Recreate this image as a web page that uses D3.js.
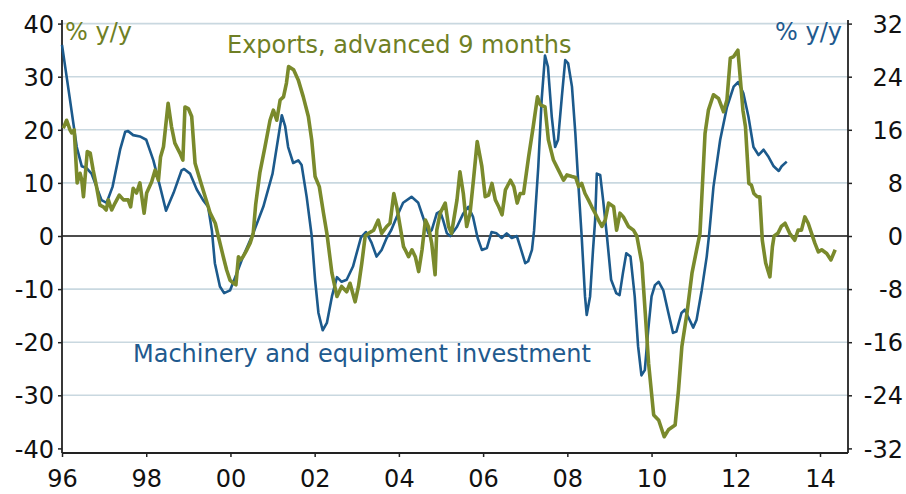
<!DOCTYPE html>
<html>
<head>
<meta charset="utf-8">
<script src="https://cdn.jsdelivr.net/npm/d3@7"></script>
<style>
  html, body { margin: 0; padding: 0; background: #fff; }
  svg { display: block; }
  text { font-family: "DejaVu Sans", Verdana, sans-serif; }
</style>
</head>
<body>
<svg id="chart" width="906" height="494"></svg>
<script>
// ---- DATA ----
const xTickYears = [1996, 1998, 2000, 2002, 2004, 2006, 2008, 2010, 2012, 2014];
const xTickLabels = ["96", "98", "00", "02", "04", "06", "08", "10", "12", "14"];
const leftTicks = [40, 30, 20, 10, 0, -10, -20, -30, -40];
const rightTicks = [32, 24, 16, 8, 0, -8, -16, -24, -32];

// Machinery and equipment investment, % y/y (right axis)
const investDates = [
  1996.0, 1996.19, 1996.35, 1996.47, 1996.59, 1996.7, 1996.82, 1996.94, 1997.06, 1997.2,
  1997.38, 1997.5, 1997.57, 1997.69, 1997.85, 1998.0, 1998.17, 1998.33, 1998.47, 1998.65,
  1998.84, 1998.9, 1999.04, 1999.2, 1999.35, 1999.47, 1999.56, 1999.63, 1999.75, 1999.85,
  1999.99, 2000.15, 2000.3, 2000.54, 2000.78, 2001.0, 2001.15, 2001.22, 2001.3, 2001.37,
  2001.49, 2001.61, 2001.69, 2001.81, 2001.93, 2002.01, 2002.09, 2002.19, 2002.29, 2002.41,
  2002.53, 2002.64, 2002.76, 2002.91, 2003.1, 2003.22, 2003.35, 2003.47, 2003.59, 2003.71,
  2003.82, 2003.95, 2004.1, 2004.3, 2004.46, 2004.57, 2004.7, 2004.78, 2004.9, 2004.98,
  2005.05, 2005.14, 2005.22, 2005.38, 2005.53, 2005.65, 2005.76, 2005.87, 2005.97, 2006.09,
  2006.2, 2006.32, 2006.44, 2006.56, 2006.68, 2006.8, 2006.88, 2007.0, 2007.07, 2007.16,
  2007.21, 2007.31, 2007.39, 2007.47, 2007.54, 2007.63, 2007.71, 2007.78, 2007.87, 2007.95,
  2008.02, 2008.11, 2008.19, 2008.26, 2008.34, 2008.42, 2008.46, 2008.54, 2008.61, 2008.66,
  2008.7, 2008.78, 2008.85, 2008.94, 2009.04, 2009.16, 2009.24, 2009.32, 2009.4, 2009.5,
  2009.6, 2009.68, 2009.76, 2009.84, 2009.92, 2010.0, 2010.08, 2010.17, 2010.28, 2010.4,
  2010.51, 2010.59, 2010.71, 2010.79, 2010.87, 2010.99, 2011.07, 2011.19, 2011.31, 2011.37,
  2011.47, 2011.63, 2011.79, 2011.95, 2012.06, 2012.18, 2012.3, 2012.42, 2012.54, 2012.66,
  2012.78, 2012.9, 2013.02, 2013.09, 2013.21
];
const investValues = [
  28.8, 20.5, 13.4, 10.5, 10.2, 9.4, 7.4, 5.4, 5.0, 7.4,
  13.0, 15.7, 15.8, 15.2, 15.0, 14.5, 11.4, 7.4, 3.8, 6.5,
  9.9, 10.1, 9.4, 7.0, 5.4, 4.4, 0.8, -4.1, -7.6, -8.6,
  -8.2, -5.6, -3.1, 0.4, 4.4, 9.4, 15.4, 18.2, 16.5, 13.4,
  11.0, 11.4, 10.7, 5.9, 0.0, -6.6, -11.6, -14.2, -13.1, -9.1,
  -6.2, -6.9, -6.6, -4.6, -0.2, 0.6, -1.0, -3.1, -2.1, -0.3,
  0.9, 2.9, 5.0, 5.9, 5.0, 2.9, 0.4, 0.9, 3.4, 3.7,
  2.4, 0.4, 0.0, 1.4, 3.4, 4.4, 2.9, -0.3, -2.1, -1.8,
  0.6, 0.4, -0.3, 0.4, -0.3, 0.0, -1.6, -4.1, -3.8, -2.1,
  0.8, 10.4, 20.5, 27.2, 25.5, 18.0, 13.4, 14.5, 21.0, 26.5,
  26.0, 22.5, 15.5, 8.0, 0.0, -9.1, -11.9, -9.1, -2.1, 2.4,
  9.4, 9.2, 5.4, 0.0, -6.6, -8.6, -8.9, -5.6, -2.6, -3.1,
  -9.1, -16.6, -21.0, -20.2, -14.2, -9.1, -7.4, -6.9, -8.2, -11.6,
  -14.6, -14.4, -11.6, -11.1, -12.2, -13.8, -12.6, -8.2, -3.1, 0.4,
  7.4, 14.5, 19.4, 22.5, 23.2, 21.5, 18.0, 13.4, 12.2, 13.0,
  11.9, 10.5, 9.8, 10.5, 11.2
];

// Exports, advanced 9 months, % y/y (left axis)
const exportDates = [
  1996.03, 1996.11, 1996.19, 1996.23, 1996.29, 1996.36, 1996.43, 1996.47, 1996.51, 1996.6,
  1996.67, 1996.74, 1996.82, 1996.9, 1996.98, 1997.05, 1997.1, 1997.18, 1997.26, 1997.36,
  1997.46, 1997.57, 1997.63, 1997.69, 1997.77, 1997.85, 1997.95, 1998.01, 1998.13, 1998.21,
  1998.29, 1998.34, 1998.41, 1998.52, 1998.6, 1998.68, 1998.8, 1998.87, 1998.92, 1999.0,
  1999.08, 1999.16, 1999.28, 1999.4, 1999.52, 1999.64, 1999.71, 1999.83, 1999.91, 1999.99,
  2000.07, 2000.13, 2000.19, 2000.24, 2000.3, 2000.39, 2000.47, 2000.54, 2000.6, 2000.7,
  2000.82, 2000.94, 2001.02, 2001.1, 2001.18, 2001.26, 2001.33, 2001.38, 2001.5, 2001.61,
  2001.73, 2001.85, 2001.93, 2002.01, 2002.11, 2002.21, 2002.29, 2002.37, 2002.41, 2002.53,
  2002.64, 2002.76, 2002.84, 2002.96, 2003.04, 2003.12, 2003.2, 2003.28, 2003.4, 2003.51,
  2003.59, 2003.71, 2003.79, 2003.88, 2003.95, 2004.03, 2004.11, 2004.15, 2004.23, 2004.31,
  2004.39, 2004.47, 2004.55, 2004.63, 2004.7, 2004.78, 2004.86, 2004.9, 2004.98, 2005.1,
  2005.18, 2005.25, 2005.38, 2005.45, 2005.53, 2005.61, 2005.69, 2005.77, 2005.86, 2005.97,
  2006.05, 2006.13, 2006.21, 2006.29, 2006.37, 2006.45, 2006.53, 2006.65, 2006.73, 2006.81,
  2006.88, 2006.96, 2007.08, 2007.19, 2007.29, 2007.36, 2007.47, 2007.55, 2007.67, 2007.79,
  2007.91, 2007.99, 2008.11, 2008.2, 2008.27, 2008.34, 2008.42, 2008.5, 2008.58, 2008.66,
  2008.74, 2008.82, 2008.9, 2008.98, 2009.1, 2009.17, 2009.25, 2009.33, 2009.45, 2009.57,
  2009.65, 2009.77, 2009.85, 2009.93, 2010.05, 2010.17, 2010.3, 2010.4, 2010.56, 2010.64,
  2010.72, 2010.84, 2010.96, 2011.07, 2011.15, 2011.27, 2011.35, 2011.47, 2011.59, 2011.71,
  2011.79, 2011.87, 2011.95, 2012.05, 2012.11, 2012.17, 2012.23, 2012.31, 2012.37, 2012.43,
  2012.51, 2012.57, 2012.63, 2012.71, 2012.81, 2012.87, 2012.91, 2013.0, 2013.08, 2013.17,
  2013.28, 2013.4, 2013.48, 2013.56, 2013.64, 2013.72, 2013.8, 2013.88, 2013.96, 2014.04,
  2014.16, 2014.26, 2014.36
];
const exportValues = [
  20.3, 21.8, 20.0, 19.4, 20.0, 10.0, 11.8, 10.5, 7.4, 15.9,
  15.6, 12.4, 9.3, 5.8, 5.5, 4.9, 6.8, 4.9, 6.2, 7.7,
  6.8, 6.8, 5.5, 9.0, 8.1, 10.0, 4.3, 8.1, 10.2, 12.4,
  10.5, 14.9, 16.8, 25.0, 20.6, 17.5, 15.6, 14.3, 24.3, 24.0,
  22.5, 13.7, 10.5, 7.4, 4.3, 2.4, 0.0, -3.9, -6.4, -8.3,
  -8.9, -9.2, -3.9, -4.5, -3.9, -2.6, -1.3, 0.5, 6.0, 12.0,
  16.8, 21.8, 23.7, 21.8, 25.6, 26.2, 28.8, 31.9, 31.3, 29.4,
  26.2, 22.5, 18.1, 11.2, 9.3, 4.3, 0.5, -4.5, -7.0, -11.4,
  -9.5, -10.5, -8.9, -12.4, -9.5, -5.1, 0.0, 0.5, 1.1, 3.0,
  0.5, 1.8, 2.4, 8.0, 5.5, 1.8, -2.0, -2.6, -3.9, -2.6,
  -3.9, -6.7, -2.6, 3.0, 1.8, -1.4, -7.3, 1.1, 4.3, 6.2,
  1.8, 0.5, 6.8, 12.1, 8.0, 1.8, 4.3, 10.5, 17.8, 13.1,
  7.4, 7.7, 9.9, 6.8, 5.5, 4.0, 8.7, 10.5, 9.3, 6.2,
  8.0, 8.0, 14.9, 20.6, 26.2, 24.7, 24.3, 18.1, 14.3, 12.4,
  10.5, 11.5, 11.2, 11.0, 9.3, 9.9, 8.0, 6.8, 5.5, 4.3,
  3.0, 1.8, 3.0, 6.2, 5.5, 1.1, 4.3, 3.6, 1.8, 1.1,
  0.0, -5.1, -14.5, -24.0, -33.7, -34.7, -37.8, -36.5, -35.6, -29.0,
  -20.8, -14.6, -7.0, -2.6, 0.5, 19.3, 23.7, 26.6, 25.9, 23.4,
  25.6, 33.5, 33.8, 35.0, 29.4, 23.7, 20.6, 9.9, 9.6, 8.0,
  7.4, 7.4, -0.8, -5.1, -7.7, -2.0, 0.0, 0.5, 1.8, 2.4,
  0.5, -0.8, 1.1, 1.1, 3.6, 2.4, 0.5, -1.4, -3.0, -2.6,
  -3.3, -4.5, -2.6
];

// ---- DRAWING ----
const greenLine = "#7a8a2c";
const greenText = "#6f7f25";
const blueLine = "#1c5a8c";
const blueText = "#1f5a8e";
const gridColor = "#c9d8e0";
const axisColor = "#222";

const svg = d3.select("#chart");
const plotLeft = 62, plotRight = 848, plotTop = 20, plotBottom = 453;

const x = d3.scaleLinear()
  .domain([1996, 1996 + (plotRight - plotLeft) / (758 / 18)])
  .range([plotLeft, plotRight]);
const yL = d3.scaleLinear().domain([-40, 40]).range([448.4, 23.6]);
const yR = d3.scaleLinear().domain([-32, 32]).range([448.4, 23.6]);

// gridlines
svg.append("g").selectAll("line")
  .data(leftTicks.filter(v => v !== 0 && v !== -40))
  .join("line")
  .attr("x1", plotLeft).attr("x2", plotRight)
  .attr("y1", d => yL(d)).attr("y2", d => yL(d))
  .attr("stroke", gridColor).attr("stroke-width", 1.6);

// zero line
svg.append("line")
  .attr("x1", plotLeft).attr("x2", plotRight)
  .attr("y1", yL(0)).attr("y2", yL(0))
  .attr("stroke", "#111").attr("stroke-width", 1.4);

// left axis
const leftAxis = d3.axisLeft(yL).tickValues(leftTicks).tickSize(4).tickPadding(4)
  .tickFormat(d => d);
const gL = svg.append("g").attr("transform", `translate(${plotLeft},0)`).call(leftAxis);
gL.select(".domain").attr("d", `M0,${plotTop}V${plotBottom}`);

// right axis
const rightAxis = d3.axisRight(yR).tickValues(rightTicks).tickSize(4).tickPadding(4)
  .tickFormat(d => d);
const gR = svg.append("g").attr("transform", `translate(${plotRight},0)`).call(rightAxis);
gR.select(".domain").attr("d", `M0,${plotTop}V${plotBottom}`);
gR.selectAll(".tick text").attr("text-anchor", "end").attr("x", 903 - plotRight);

// bottom axis
const bottomAxis = d3.axisBottom(x).tickValues(xTickYears).tickSize(4).tickPadding(13)
  .tickFormat((d, i) => xTickLabels[i]);
const gB = svg.append("g").attr("transform", `translate(0,${plotBottom})`).call(bottomAxis);
gB.select(".domain").attr("d", `M${plotLeft},0H${plotRight}`);

[gL, gR, gB].forEach(g => {
  g.select(".domain").attr("stroke", axisColor).attr("stroke-width", 1.8).attr("fill", "none");
  g.selectAll(".tick line").attr("stroke", axisColor).attr("stroke-width", 1.5);
  g.selectAll(".tick text")
    .attr("fill", "#111")
    .style("font-family", '"DejaVu Sans", Verdana, sans-serif')
    .style("font-size", "24px");
});
gL.selectAll(".tick text").attr("dy", "0.36em");
gR.selectAll(".tick text").attr("dy", "0.36em");
gB.selectAll(".tick text").attr("dy", "0.71em");

// series
const investData = investDates.map((d, i) => [d, investValues[i]]);
const exportData = exportDates.map((d, i) => [d, exportValues[i]]);

svg.append("path")
  .datum(investData)
  .attr("fill", "none")
  .attr("stroke", blueLine)
  .attr("stroke-width", 2.6)
  .attr("stroke-linejoin", "round")
  .attr("d", d3.line().x(d => x(d[0])).y(d => yR(d[1])));

svg.append("path")
  .datum(exportData)
  .attr("fill", "none")
  .attr("stroke", greenLine)
  .attr("stroke-width", 3.6)
  .attr("stroke-linejoin", "round")
  .attr("d", d3.line().x(d => x(d[0])).y(d => yL(d[1])));

// labels
svg.append("text").attr("x", 65).attr("y", 40)
  .attr("fill", greenText).style("font-size", "24px").text("% y/y");
svg.append("text").attr("x", 842).attr("y", 40).attr("text-anchor", "end")
  .attr("fill", blueText).style("font-size", "24px").text("% y/y");
svg.append("text").attr("x", 227).attr("y", 53)
  .attr("fill", greenText).style("font-size", "24px").text("Exports, advanced 9 months");
svg.append("text").attr("x", 133).attr("y", 362)
  .attr("fill", blueText).style("font-size", "24px").text("Machinery and equipment investment");
</script>
</body>
</html>
